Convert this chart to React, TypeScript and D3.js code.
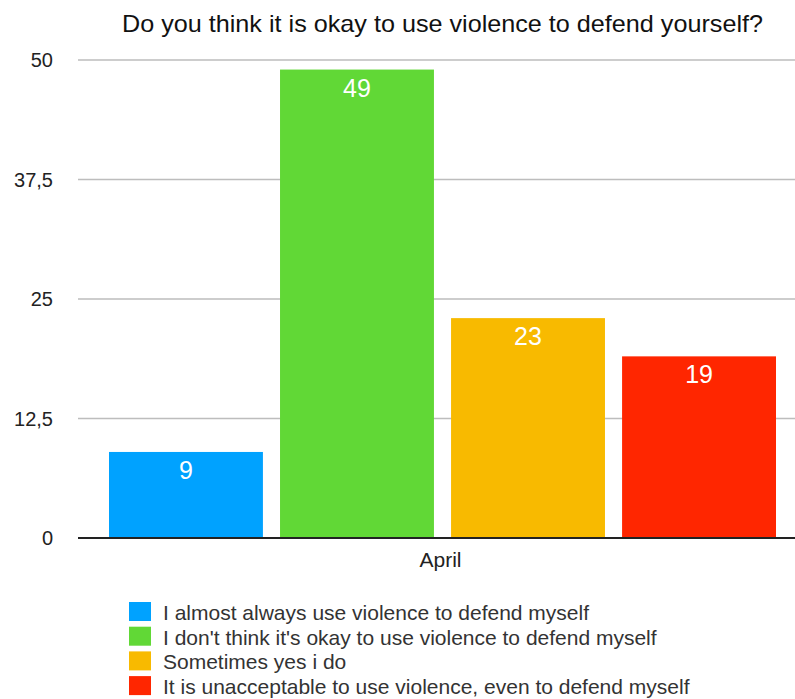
import React from "react";
import * as d3 from "d3";

const title = "Do you think it is okay to use violence to defend yourself?";
const category = "April";
const seriesNames = [
  "I almost always use violence to defend myself",
  "I don't think it's okay to use violence to defend myself",
  "Sometimes yes i do",
  "It is unacceptable to use violence, even to defend myself",
];
const seriesValues = [9, 49, 23, 19];
const seriesColors = ["#00a2ff", "#61d836", "#f8ba00", "#ff2600"];
const yTicks = [0, 12.5, 25, 37.5, 50];
const yTickLabels = ["0", "12,5", "25", "37,5", "50"];

export default function App() {
  const W = 795, H = 699;
  const plotLeft = 78, plotRight = 795;
  const y = d3.scaleLinear().domain([0, 50]).range([538, 60]);
  const xCat = d3.scaleBand().domain([category]).range([plotLeft, plotRight]).paddingInner(0).paddingOuter(0);
  const x = d3.scaleBand().domain(seriesNames).range([109, 776]).paddingInner(0.1).paddingOuter(0);
  const font = "'Liberation Sans', Arial, Helvetica, sans-serif";
  return (
    <svg width={W} height={H} style={{ position: "absolute", left: 0, top: 0, display: "block" }} fontFamily={font}>
      <rect width={W} height={H} fill="#fff" />
      <text x={442.5} y={32} textAnchor="middle" fontSize={24} fill="#111" textLength={641} lengthAdjust="spacingAndGlyphs">{title}</text>
      {yTicks.map((t, i) => (
        <g key={t}>
          {t !== 0 && <line x1={plotLeft} x2={plotRight} y1={y(t)} y2={y(t)} stroke="#bdbdbd" strokeWidth={1.5} />}
          <text x={53} y={y(t) + 7} textAnchor="end" fontSize={20} fill="#222">{yTickLabels[i]}</text>
        </g>
      ))}
      {seriesNames.map((s, i) => (
        <g key={s}>
          <rect x={x(s)} y={y(seriesValues[i])} width={x.bandwidth()} height={y(0) - y(seriesValues[i])} fill={seriesColors[i]} />
          <text x={(x(s) as number) + x.bandwidth() / 2} y={y(seriesValues[i]) + 27} textAnchor="middle" fontSize={25} fill="#fff">{seriesValues[i]}</text>
        </g>
      ))}
      <line x1={plotLeft} x2={plotRight} y1={y(0)} y2={y(0)} stroke="#222" strokeWidth={2} />
      <text x={(xCat(category) as number) + xCat.bandwidth() / 2 + 4} y={567} textAnchor="middle" fontSize={21} fill="#222">{category}</text>
      {seriesNames.map((s, i) => (
        <g key={s} transform={`translate(129, ${602 + i * 24.7})`}>
          <rect x={0} y={0} width={22} height={19} fill={seriesColors[i]} />
          <text x={34} y={18} fontSize={21} fill="#333">{s}</text>
        </g>
      ))}
    </svg>
  );
}
